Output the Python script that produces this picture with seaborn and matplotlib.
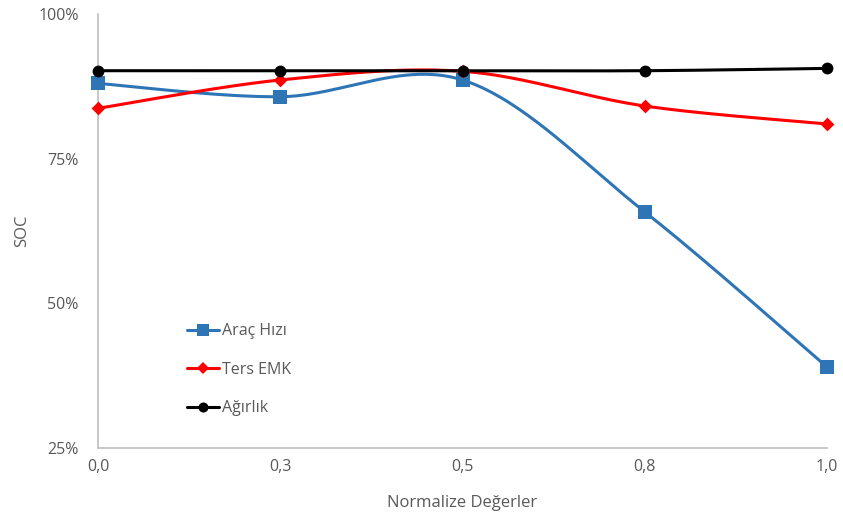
import numpy as np
import pandas as pd
import matplotlib
matplotlib.use("Agg")
import matplotlib.pyplot as plt
from matplotlib.lines import Line2D
import seaborn as sns

categories = ["0,0", "0,3", "0,5", "0,8", "1,0"]
arac_hizi = [88.0, 85.7, 88.6, 65.8, 39.0]
ters_emk = [83.7, 88.6, 90.1, 84.1, 81.0]
agirlik = [90.2, 90.2, 90.2, 90.2, 90.6]
y_ticks = [25, 50, 75, 100]

sns.set_theme(style="white")
plt.rcParams['font.family'] = ['Open Sans', 'DejaVu Sans']

fig = plt.figure(figsize=(8.43, 5.2), dpi=100)
ax = fig.add_axes([98/843, 1-448/520, (827-98)/843, (448-14)/520])

def smooth(y, n=60):
    y = np.asarray(y, float)
    x = np.arange(len(y), dtype=float)
    P = np.column_stack([x, y])
    Pext = np.vstack([P[0], P, P[-1]])
    out = []
    for i in range(len(P)-1):
        p0, p1, p2, p3 = Pext[i], Pext[i+1], Pext[i+2], Pext[i+3]
        c1 = p1 + (p2 - p0)/6
        c2 = p2 - (p3 - p1)/6
        t = np.linspace(0, 1, n)[:, None]
        b = (1-t)**3*p1 + 3*(1-t)**2*t*c1 + 3*(1-t)*t**2*c2 + t**3*p2
        out.append(b if i == 0 else b[1:])
    out = np.vstack(out)
    return out[:, 0], out[:, 1]

series = [
    ("Araç Hızı", arac_hizi, "#2E75B6", "s", 10),
    ("Ters EMK", ters_emk, "#FF0000", "D", 7),
    ("Ağırlık", agirlik, "#000000", "o", 8.5),
]

handles = []
for name, vals, color, mk, ms in series:
    sx, sy = smooth(vals)
    df = pd.DataFrame({"x": sx, "y": sy})
    sns.lineplot(data=df, x="x", y="y", sort=False, color=color, lw=2.2, ax=ax, zorder=3)
    pts = pd.DataFrame({"x": np.arange(len(vals)), "y": vals})
    sns.scatterplot(data=pts, x="x", y="y", marker=mk, s=ms**2, color=color,
                    edgecolor=color, linewidth=0, ax=ax, zorder=4, clip_on=False)
    handles.append(Line2D([0], [0], color=color, lw=2.2, marker=mk, markersize=ms*0.85,
                          markeredgewidth=0, label=name))

ax.set_xlim(0, len(categories)-1)
ax.set_ylim(25, 100)
ax.set_xticks(range(len(categories)))
ax.set_xticklabels(categories)
ax.set_yticks(y_ticks)
ax.set_yticklabels([f"{v}%" for v in y_ticks])
ax.tick_params(axis="both", length=0, labelsize=11.5, labelcolor="#595959")
ax.tick_params(axis="x", pad=8)
ax.tick_params(axis="y", pad=14)
for s in ["top", "right"]:
    ax.spines[s].set_visible(False)
for s in ["left", "bottom"]:
    ax.spines[s].set_color("#BFBFBF")
    ax.spines[s].set_linewidth(1.2)
ax.set_xlabel("Normalize Değerler", fontsize=12, color="#595959", labelpad=14)
ax.set_ylabel("SOC", fontsize=12, color="#595959", labelpad=6)

leg = ax.legend(handles=handles, loc="upper left", bbox_to_anchor=(0.102, 0.32),
                frameon=False, fontsize=11.5, labelspacing=1.4, handlelength=2.0,
                handletextpad=0.2, labelcolor="#595959")

fig.savefig("out.png", dpi=100)
